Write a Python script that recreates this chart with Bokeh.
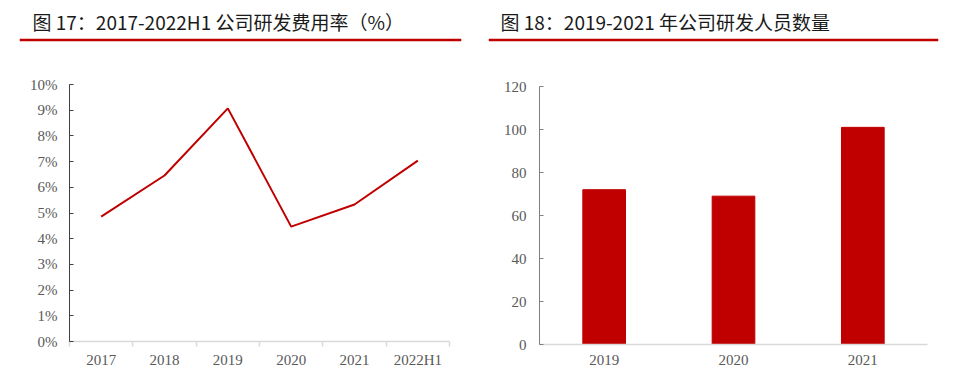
from bokeh.plotting import figure
from bokeh.models import FixedTicker, Span, Label, FactorRange, Range1d, NumeralTickFormatter, Column
from bokeh.layouts import row, column
from bokeh.embed import file_html
from bokeh.resources import INLINE

# ---- data ----
title_left = "图 17：2017-2022H1 公司研发费用率（%）"
title_right = "图 18：2019-2021 年公司研发人员数量"

ratio_years = ["2017", "2018", "2019", "2020", "2021", "2022H1"]
rd_ratio = [0.0486, 0.0646, 0.0907, 0.0447, 0.0533, 0.0704]
ratio_ticks = [i / 100 for i in range(11)]

staff_years = ["2019", "2020", "2021"]
rd_staff = [72, 69, 101]
staff_ticks = [0, 20, 40, 60, 80, 100, 120]

RED = "#C00000"
TICK_FONT = "Liberation Serif"
TICK_COLOR = "#595959"


def title_fig(width, bl, br, text, text_off):
    p = figure(width=width, height=50, x_range=Range1d(0, 1), y_range=Range1d(0, 1),
               output_backend="svg", toolbar_location=None,
               x_axis_location=None, y_axis_location=None,
               min_border_left=bl, min_border_right=br, min_border_top=0, min_border_bottom=0)
    p.grid.visible = False
    p.outline_line_color = None
    p.add_layout(Span(location=(50 - 39.5) / 50, dimension="width", line_color=RED, line_width=2.5))
    fw = width - bl - br
    p.add_layout(Label(x=text_off / fw, y=(50 - 21) / 50, text=text, text_font="Noto Sans CJK SC",
                       text_font_size="19px", text_baseline="middle", text_align="left",
                       text_color="#1a1a1a"))
    return p


def style_axes(p):
    for ax in (p.xaxis, p.yaxis):
        ax.major_label_text_font = TICK_FONT
        ax.major_label_text_font_size = "15px"
        ax.major_label_text_color = TICK_COLOR
    p.grid.visible = False
    p.outline_line_color = None


# ---- left: line chart ----
tl = title_fig(474, 19, 13, title_left, 13)

pl = figure(width=474, height=322, x_range=Range1d(0, len(ratio_years)), y_range=Range1d(0, 0.10),
            output_backend="svg", toolbar_location=None,
            min_border_left=69, min_border_right=25, min_border_top=34, min_border_bottom=31)
xs = [i + 0.5 for i in range(len(ratio_years))]
pl.line(xs, rd_ratio, line_color=RED, line_width=2)
style_axes(pl)
pl.xaxis.ticker = FixedTicker(ticks=xs, minor_ticks=list(range(len(ratio_years) + 1)))
pl.xaxis.major_label_overrides = {x: lab for x, lab in zip(xs, ratio_years)}
pl.xaxis.axis_line_color = "#d9d9d9"
pl.xaxis.axis_line_width = 1.5
pl.xaxis.major_tick_line_color = None
pl.xaxis.major_tick_out = 0
pl.xaxis.minor_tick_line_color = "#d9d9d9"
pl.xaxis.minor_tick_line_width = 1.5
pl.xaxis.minor_tick_out = 5
pl.xaxis.minor_tick_in = 0
pl.xaxis.major_label_standoff = 5
pl.yaxis.ticker = FixedTicker(ticks=ratio_ticks)
pl.yaxis.formatter = NumeralTickFormatter(format="0%")
pl.yaxis.axis_line_color = "#404040"
pl.yaxis.major_tick_line_color = "#404040"
pl.yaxis.major_tick_in = 4
pl.yaxis.major_tick_out = 0
pl.yaxis.minor_tick_line_color = None
pl.yaxis.major_label_standoff = 12

# ---- right: bar chart ----
tr = title_fig(472, 14, 8, title_right, 12)

pr = figure(width=472, height=322, x_range=FactorRange(*staff_years), y_range=Range1d(0, 120),
            output_backend="svg", toolbar_location=None,
            min_border_left=65, min_border_right=19, min_border_top=36, min_border_bottom=28)
pr.vbar(x=staff_years, top=rd_staff, width=0.33, color=RED)
style_axes(pr)
pr.xaxis.axis_line_color = "#d9d9d9"
pr.xaxis.axis_line_width = 1.5
pr.xaxis.major_tick_line_color = None
pr.xaxis.major_tick_out = 0
pr.xaxis.major_label_standoff = 10
pr.yaxis.ticker = FixedTicker(ticks=staff_ticks)
pr.yaxis.axis_line_color = "#808080"
pr.yaxis.major_tick_line_color = "#808080"
pr.yaxis.major_tick_in = 4
pr.yaxis.major_tick_out = 0
pr.yaxis.minor_tick_line_color = None
pr.yaxis.major_label_standoff = 13

layout = row(column(Column(children=[tl]), Column(children=[pl])),
             column(Column(children=[tr]), Column(children=[pr])))
open("out.html", "w").write(file_html(layout, INLINE))
